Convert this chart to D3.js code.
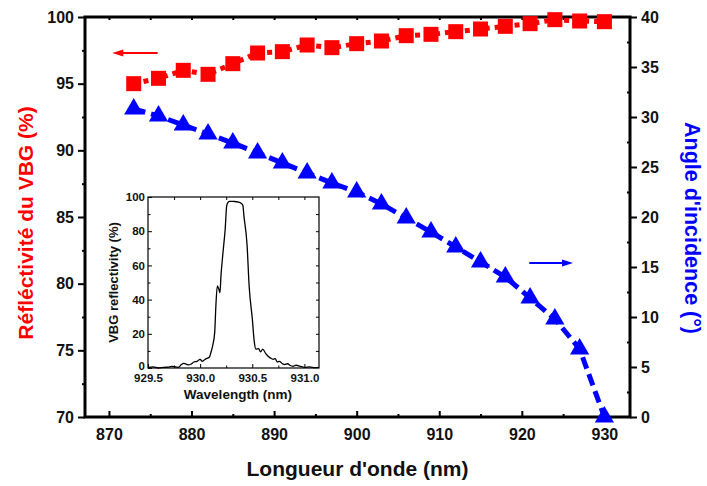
<!DOCTYPE html>
<html>
<head>
<meta charset="utf-8">
<script src="https://cdn.jsdelivr.net/npm/d3@7"></script>
<style>
  html, body { margin: 0; padding: 0; background: #fff; }
  svg { display: block; font-family: Arial, "Liberation Sans", sans-serif; }
</style>
</head>
<body>
<svg id="chart" width="707" height="486"></svg>
<script>
// ---- data ----
const wavelengths = [873, 876, 879, 882, 885, 888, 891, 894, 897, 900, 903, 906, 909, 912, 915, 918, 921, 924, 927, 930];
const reflectivity = [95.0, 95.4, 96.0, 95.7, 96.5, 97.3, 97.4, 97.9, 97.7, 98.0, 98.2, 98.6, 98.7, 98.9, 99.1, 99.3, 99.5, 99.8, 99.7, 99.65];
const angle = [30.8, 30.1, 29.2, 28.3, 27.4, 26.4, 25.4, 24.4, 23.4, 22.5, 21.3, 19.9, 18.5, 17.0, 15.5, 14.0, 11.9, 9.8, 6.8, 0.0];
const xTicks = [870, 880, 890, 900, 910, 920, 930];
const yLeftTicks = [70, 75, 80, 85, 90, 95, 100];
const yRightTicks = [0, 5, 10, 15, 20, 25, 30, 35, 40];

// inset spectrum
const specWl = [929.50, 929.55, 929.60, 929.65, 929.70, 929.73, 929.76, 929.79, 929.82, 929.84, 929.86, 929.89, 929.91, 929.94, 929.97, 930.00, 930.02, 930.04, 930.06, 930.09, 930.10, 930.12, 930.14, 930.15, 930.165, 930.18, 930.19, 930.20, 930.22, 930.24, 930.255, 930.27, 930.28, 930.32, 930.37, 930.40, 930.41, 930.42, 930.45, 930.47, 930.50, 930.52, 930.535, 930.56, 930.58, 930.60, 930.63, 930.65, 930.675, 930.70, 930.72, 930.74, 930.76, 930.79, 930.81, 930.84, 930.86, 930.89, 930.92, 930.96, 931.00, 931.05, 931.10, 931.14];
const specR = [0.3, 0.6, 0.0, 0.4, 0.5, 1.0, 0.6, 0.4, 2.0, 2.7, 2.4, 1.8, 2.2, 3.5, 3.9, 5.1, 3.9, 4.7, 5.5, 6.4, 8.4, 13, 21, 35, 48, 46, 44, 54, 68, 81, 95, 97, 97.5, 97.4, 97.0, 96.0, 95, 89, 72, 48, 29, 15, 11, 11.3, 9.4, 11, 8.4, 7, 5.8, 5.1, 5.5, 3.5, 3.9, 2.5, 2.0, 2.5, 1.6, 1.0, 1.6, 1.0, 0.4, 0.6, 0.2, 0.4];
const insetXTicks = [929.5, 930.0, 930.5, 931.0];
const insetYTicks = [0, 20, 40, 60, 80, 100];

// ---- scales ----
const svg = d3.select("#chart");
const L = 85, R = 630, T = 17, B = 417;
const x = d3.scaleLinear().domain([867.1, 933.1]).range([L, R]);
const yL = d3.scaleLinear().domain([70, 100]).range([B, T]);
const yR = d3.scaleLinear().domain([0, 40]).range([B, T]);

const tickFont = "bold 16px Arial, 'Liberation Sans', sans-serif";

const g = svg.append("g");

// bottom axis (ticks inward)
const xAxis = d3.axisBottom(x).tickValues(xTicks).tickFormat(d3.format("d")).tickSize(-6).tickPadding(12);
const gx = g.append("g").attr("transform", `translate(0,${B})`).call(xAxis);
gx.selectAll("text").style("font", tickFont).attr("fill", "#111");
g.append("g").attr("transform", `translate(0,${B})`)
  .call(d3.axisBottom(x).tickValues(d3.range(875, 931, 10)).tickFormat("").tickSize(-3));
// top axis minor ticks
g.append("g").attr("transform", `translate(0,${T})`)
  .call(d3.axisTop(x).tickValues(d3.range(870, 931, 5)).tickFormat("").tickSize(-3));

// left axis
const gyl = g.append("g").attr("transform", `translate(${L},0)`)
  .call(d3.axisLeft(yL).tickValues(yLeftTicks).tickSize(7).tickPadding(4));
gyl.selectAll("text").style("font", tickFont).attr("fill", "#111");
g.append("g").attr("transform", `translate(${L},0)`)
  .call(d3.axisLeft(yL).tickValues(d3.range(72.5, 100, 5)).tickFormat("").tickSize(3));

// right axis
const gyr = g.append("g").attr("transform", `translate(${R},0)`)
  .call(d3.axisRight(yR).tickValues(yRightTicks).tickSize(7).tickPadding(4));
gyr.selectAll("text").style("font", tickFont).attr("fill", "#111");
g.append("g").attr("transform", `translate(${R},0)`)
  .call(d3.axisRight(yR).tickValues(d3.range(2.5, 40, 5)).tickFormat("").tickSize(-3));

g.selectAll(".domain").remove();
g.selectAll(".tick line").attr("stroke", "#000").attr("stroke-width", 2);

svg.append("rect").attr("x", L).attr("y", T).attr("width", R - L).attr("height", B - T)
  .attr("fill", "none").attr("stroke", "#000").attr("stroke-width", 3);

// axis titles
svg.append("text").attr("x", (L + R) / 2).attr("y", 476).attr("text-anchor", "middle")
  .style("font", "bold 21px Arial, 'Liberation Sans', sans-serif").attr("fill", "#111")
  .text("Longueur d'onde (nm)");
svg.append("text").attr("transform", `translate(33,223) rotate(-90)`).attr("text-anchor", "middle")
  .style("font", "bold 21px Arial, 'Liberation Sans', sans-serif").attr("fill", "#ff0000")
  .text("Réfléctivité du VBG (%)");
svg.append("text").attr("transform", `translate(685,228) rotate(90)`).attr("text-anchor", "middle")
  .style("font", "bold 21.5px Arial, 'Liberation Sans', sans-serif").attr("fill", "#0000ff")
  .text("Angle d'incidence (°)");

// ---- series ----
const redLine = d3.line().x((d, i) => x(wavelengths[i])).y(d => yL(d));
svg.append("path").datum(reflectivity).attr("d", redLine)
  .attr("fill", "none").attr("stroke", "#ff0000").attr("stroke-width", 5).attr("stroke-dasharray", "5,5");
svg.append("g").selectAll("rect").data(reflectivity).join("rect")
  .attr("x", (d, i) => x(wavelengths[i]) - 7.5).attr("y", d => yL(d) - 7.5)
  .attr("width", 15).attr("height", 15).attr("fill", "#ff0000");

const blueLine = d3.line().x((d, i) => x(wavelengths[i])).y(d => yR(d));
svg.append("path").datum(angle).attr("d", blueLine)
  .attr("fill", "none").attr("stroke", "#0000ff").attr("stroke-width", 5).attr("stroke-dasharray", "12,6");
const tri = d3.symbol().type(d3.symbolTriangle).size(160);
svg.append("g").selectAll("path").data(angle).join("path")
  .attr("d", tri)
  .attr("transform", (d, i) => `translate(${x(wavelengths[i])},${yR(d)})`)
  .attr("fill", "#0000ff");

// arrows
function arrow(x1, x2, y, color) {
  const dir = Math.sign(x2 - x1);
  svg.append("line").attr("x1", x1).attr("x2", x2 - dir * 8).attr("y1", y).attr("y2", y)
    .attr("stroke", color).attr("stroke-width", 2);
  svg.append("path").attr("d", `M${x2},${y} L${x2 - dir * 11},${y - 3.5} L${x2 - dir * 11},${y + 3.5} Z`)
    .attr("fill", color);
}
arrow(x(875.9), x(870.4), yL(97.3), "#ff0000");
arrow(x(920.9), x(926.2), yR(15.4), "#0000ff");

// ---- inset ----
const iL = 148, iR = 319, iT = 197, iB = 368;
const ix = d3.scaleLinear().domain([929.5, 931.14]).range([iL, iR]);
const iy = d3.scaleLinear().domain([0, 100]).range([iB, iT]);
const ig = svg.append("g");
const smallFont = "bold 11.5px Arial, 'Liberation Sans', sans-serif";
const igx = ig.append("g").attr("transform", `translate(0,${iB})`)
  .call(d3.axisBottom(ix).tickValues(insetXTicks).tickFormat(d3.format(".1f")).tickSize(-4).tickPadding(6));
igx.selectAll("text").style("font", smallFont).attr("fill", "#111");
ig.append("g").attr("transform", `translate(0,${iB})`)
  .call(d3.axisBottom(ix).tickValues([929.75, 930.25, 930.75]).tickFormat("").tickSize(-2.5));
ig.append("g").attr("transform", `translate(0,${iT})`)
  .call(d3.axisTop(ix).tickValues([929.75, 930.0, 930.25, 930.5, 930.75, 931.0]).tickFormat("").tickSize(-3));
const igy = ig.append("g").attr("transform", `translate(${iL},0)`)
  .call(d3.axisLeft(iy).tickValues(insetYTicks).tickSize(-4).tickPadding(3));
igy.selectAll("text").style("font", smallFont).attr("fill", "#111");
igy.selectAll(".tick").filter(d => d === 0).select("text").attr("dy", "0.1em");
ig.append("g").attr("transform", `translate(${iL},0)`)
  .call(d3.axisLeft(iy).tickValues(d3.range(10, 100, 20)).tickFormat("").tickSize(-2.5));
ig.append("g").attr("transform", `translate(${iR},0)`)
  .call(d3.axisRight(iy).tickValues(d3.range(10, 100, 10)).tickFormat("").tickSize(-3));
ig.selectAll(".domain").remove();
ig.selectAll(".tick line").attr("stroke", "#000").attr("stroke-width", 1);
ig.append("rect").attr("x", iL).attr("y", iT).attr("width", iR - iL).attr("height", iB - iT)
  .attr("fill", "none").attr("stroke", "#000").attr("stroke-width", 1.2);

const specLine = d3.line().x((d, i) => ix(specWl[i])).y(d => iy(d)).curve(d3.curveMonotoneX);
ig.append("path").datum(specR).attr("d", specLine)
  .attr("fill", "none").attr("stroke", "#000").attr("stroke-width", 1.3);

ig.append("text").attr("x", 238).attr("y", 399).attr("text-anchor", "middle")
  .style("font", "bold 13.5px Arial, 'Liberation Sans', sans-serif").attr("fill", "#111")
  .text("Wavelength (nm)");
ig.append("text").attr("transform", `translate(118,${(iT + iB) / 2}) rotate(-90)`).attr("text-anchor", "middle")
  .style("font", "bold 13px Arial, 'Liberation Sans', sans-serif").attr("fill", "#111")
  .text("VBG reflectivity (%)");
</script>
</body>
</html>
